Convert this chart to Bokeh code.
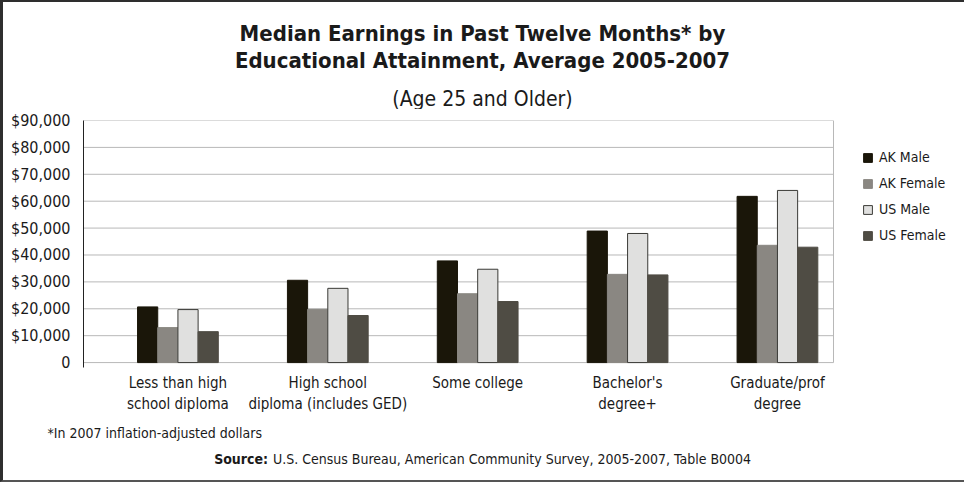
from bokeh.plotting import figure
from bokeh.layouts import column
from bokeh.models import (Range1d, FixedTicker, NumeralTickFormatter, Label, Title,
                          Legend, LegendItem, ColumnDataSource)
from bokeh.transform import dodge
from bokeh.embed import file_html
from bokeh.resources import INLINE

# ---------------- data ----------------
categories = ["Less than high\nschool diploma",
              "High school\ndiploma (includes GED)",
              "Some college",
              "Bachelor's\ndegree+",
              "Graduate/prof\ndegree"]
series_names = ["AK Male", "AK Female", "US Male", "US Female"]
ak_male = [20700, 30600, 37800, 48900, 61800]
ak_female = [13000, 19800, 25600, 32800, 43600]
us_male = [19700, 27600, 34700, 48000, 64000]
us_female = [11500, 17500, 22700, 32600, 42900]
y_ticks = [0, 10000, 20000, 30000, 40000, 50000, 60000, 70000, 80000, 90000]

title_1 = "Median Earnings in Past Twelve Months* by"
title_2 = "Educational Attainment, Average 2005-2007"
subtitle = "(Age 25 and Older)"
footnote = "*In 2007 inflation-adjusted dollars"
source_bold = "Source:"
source_text = "U.S. Census Bureau, American Community Survey, 2005-2007, Table B0004"

# ---------------- style ----------------
FONT = "DejaVu Sans Condensed, Roboto"
colors = ["#1a1609", "#8a8782", "#e0e0df", "#4f4c44"]
bar_outlines = ["#1a1609", "#8a8782", "#3a3a36", "#4f4c44"]
TEXT = "#1a1a1a"
GRID = "#b8b8b8"

W = 961
H_HEAD, H_FOOT = 107, 34
FL, FT, FB = 80, 11, 75
PLOT_W, LEGEND_W = 750, 131
PLOT_H, AXIS_EXT = 246, 5          # plot-area height and y-axis stub below zero (px)
FRAME_H = PLOT_H + AXIS_EXT
H_MAIN = FT + FRAME_H + FB

# x range: plot area spans X_START..X_PLOT_END; frame continues right to host the legend
X_START, X_PLOT_END = -0.63, 4.374
X_END = X_PLOT_END + LEGEND_W * (X_PLOT_END - X_START) / PLOT_W
Y_START = y_ticks[0] - AXIS_EXT * (y_ticks[-1] - y_ticks[0]) / PLOT_H


def text_panel(height):
    f = figure(width=W, height=height, output_backend="svg", toolbar_location=None,
               x_axis_type=None, y_axis_type=None, tools="",
               x_range=Range1d(0, 1), y_range=Range1d(0, 1), min_border=0)
    f.outline_line_color = None
    f.xgrid.grid_line_color = None
    f.ygrid.grid_line_color = None
    return f


def add_label(f, height, text, x, y_top, size, align="left", bold=False):
    # x from the frame's left edge, y_top = baseline distance from the panel top
    f.add_layout(Label(x=x, y=height - y_top, x_units="screen", y_units="screen",
                       text=text, text_font=FONT, text_font_size=size,
                       text_font_style="bold" if bold else "normal",
                       text_align=align, text_baseline="alphabetic",
                       text_color=TEXT))


# ---------------- header ----------------
head = text_panel(H_HEAD)
add_label(head, H_HEAD, title_1, 479 - FL, 31, "22px", "center", True)
add_label(head, H_HEAD, title_2, 479 - FL, 58, "22px", "center", True)
add_label(head, H_HEAD, subtitle, 479 - FL, 96, "21px", "center")

# ---------------- main chart ----------------
xs = list(range(len(categories)))
source = ColumnDataSource(dict(x=xs, ak_male=ak_male, ak_female=ak_female,
                               us_male=us_male, us_female=us_female))
cols = ["ak_male", "ak_female", "us_male", "us_female"]

p = figure(width=W, height=H_MAIN, output_backend="svg", toolbar_location=None,
           x_range=Range1d(X_START, X_END), y_range=Range1d(Y_START, y_ticks[-1]),
           min_border_left=FL, min_border_right=0, min_border_top=FT,
           min_border_bottom=FB, tools="")

# horizontal grid lines and the right edge of the plot area
p.segment(x0=X_START, x1=X_PLOT_END, y0=y_ticks, y1=y_ticks,
          line_color=GRID, line_width=1)
p.segment(x0=X_PLOT_END, x1=X_PLOT_END, y0=y_ticks[0], y1=y_ticks[-1],
          line_color=GRID, line_width=1)

bw = 0.1347
offsets = [-1.5 * bw, -0.5 * bw, 0.5 * bw, 1.5 * bw]
renderers = []
for col, off, c, lc in zip(cols, offsets, colors, bar_outlines):
    r = p.vbar(x=dodge("x", off), top=col, width=bw, bottom=0, source=source,
               fill_color=c, line_color=lc, line_width=1)
    renderers.append(r)

p.xaxis.ticker = FixedTicker(ticks=xs)
p.xaxis.major_label_overrides = {i: c for i, c in enumerate(categories)}
p.xaxis.axis_line_color = None
p.xaxis.major_tick_line_color = None
p.xaxis.minor_tick_line_color = None
p.xaxis.major_label_text_font = FONT
p.xaxis.major_label_text_font_size = "15px"
p.xaxis.major_label_text_line_height = 1.2
p.xaxis.major_label_text_color = TEXT
p.xaxis.major_label_standoff = 0

p.yaxis.ticker = FixedTicker(ticks=y_ticks)
p.yaxis.formatter = NumeralTickFormatter(format="$0,0")
p.yaxis.major_label_overrides = {0: "0"}
p.yaxis.axis_line_color = "#222222"
p.yaxis.axis_line_width = 1
p.yaxis.major_tick_line_color = None
p.yaxis.minor_tick_line_color = None
p.yaxis.major_label_text_font = FONT
p.yaxis.major_label_text_font_size = "16px"
p.yaxis.major_label_text_color = TEXT
p.yaxis.major_label_standoff = 7

p.xgrid.grid_line_color = None
p.ygrid.grid_line_color = None
p.outline_line_color = None

items = [LegendItem(label=n, renderers=[r]) for n, r in zip(series_names, renderers)]
legend = Legend(items=items, location=(PLOT_W + 29, 118 + AXIS_EXT),
                glyph_width=11, glyph_height=11,
                label_height=18, spacing=8, padding=0, margin=0, label_standoff=6,
                border_line_color=None, background_fill_alpha=0,
                label_text_font=FONT, label_text_font_size="14px",
                label_text_color=TEXT)
p.add_layout(legend, "center")

p.add_layout(Title(text=footnote, align="left", offset=-36, text_font=FONT,
                   text_font_size="14px", text_font_style="normal",
                   text_color=TEXT, standoff=12), "below")

# ---------------- footer ----------------
foot = text_panel(H_FOOT)
add_label(foot, H_FOOT, source_bold, 264.6 - FL, 12.6, "14px", "right", True)
add_label(foot, H_FOOT, source_text, 269.5 - FL, 12.6, "14px")

layout = column(head, p, foot, spacing=0)
layout.styles = {"border-left": "3px solid #2e2e2e", "border-top": "2px solid #2e2e2e",
                 "border-bottom": "2px solid #555555"}

open("out.html", "w").write(file_html(layout, INLINE))
